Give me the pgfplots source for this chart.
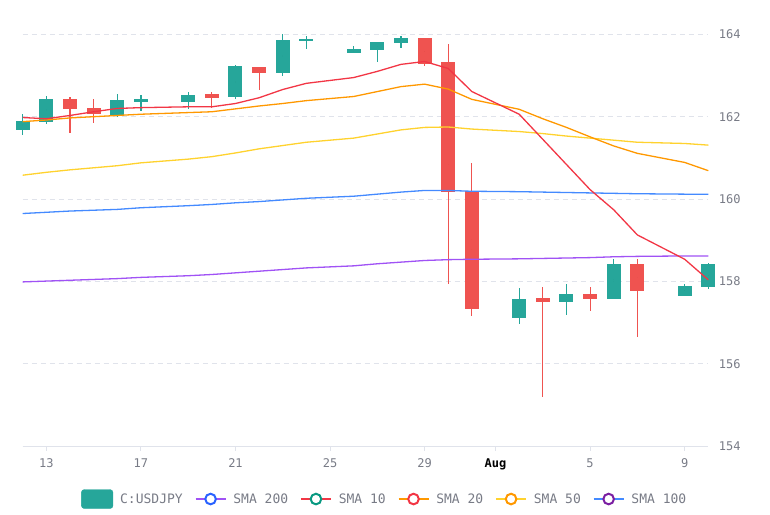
\documentclass[border=0pt]{standalone}
\usepackage{pgfplots}
\pgfplotsset{compat=1.18}
\usepackage{pgfplotstable}
\usepackage{fontspec}
\setmainfont{DejaVu Sans}
\newfontfamily\monof{DejaVu Sans Mono}
\definecolor{cgreen}{HTML}{26A69A}
\definecolor{cred}{HTML}{EF5350}
\definecolor{smaA}{HTML}{F23645}
\definecolor{smaB}{HTML}{FF9800}
\definecolor{smaC}{HTML}{FFD22E}
\definecolor{smaD}{HTML}{448AFF}
\definecolor{smaE}{HTML}{A052F5}
\definecolor{lgblue}{HTML}{2962FF}
\definecolor{lgteal}{HTML}{089981}
\definecolor{lgpurple}{HTML}{7B1FA2}
\definecolor{txtgray}{HTML}{787B86}
\definecolor{gridgray}{HTML}{E0E3EB}

\pgfplotstableread{
x  o      h      l      c
12 161.68 162.06 161.56 161.88
13 161.88 162.50 161.83 162.42
16 162.06 162.55 161.99 162.39
17 162.38 162.52 162.14 162.41
19 162.38 162.59 162.18 162.52
21 162.49 163.25 162.43 163.21
23 163.08 164.00 162.99 163.84
24 163.84 163.96 163.64 163.87
26 163.56 163.72 163.55 163.63
27 163.62 163.80 163.33 163.79
28 163.79 163.96 163.66 163.89
33 157.13 157.85 156.97 157.57
35 157.52 157.94 157.19 157.69
37 157.58 158.54 157.57 158.41
40 157.65 157.93 157.64 157.89
41 157.87 158.45 157.83 158.41
}\greencandles

\pgfplotstableread{
x  o      h      l      c
14 162.42 162.47 161.60 162.19
15 162.20 162.42 161.84 162.07
20 162.53 162.61 162.22 162.47
22 163.20 163.21 162.66 163.08
29 163.89 163.92 163.23 163.30
30 163.32 163.76 157.94 160.18
31 160.18 160.88 157.17 157.35
34 157.58 157.86 155.19 157.52
36 157.69 157.86 157.28 157.58
38 158.41 158.55 156.66 157.78
}\redcandles

\pgfplotstableread{
x  s10    s20    s50    s100   s200
12 161.98 161.88 160.58 159.65 157.99
13 161.95 161.92 160.65 159.68 158.01
14 162.03 161.97 160.71 159.71 158.03
15 162.12 162.00 160.76 159.73 158.05
16 162.20 162.03 160.81 159.75 158.07
17 162.22 162.06 160.88 159.79 158.10
19 162.24 162.10 160.97 159.84 158.14
20 162.24 162.12 161.03 159.87 158.17
21 162.32 162.19 161.12 159.91 158.21
22 162.46 162.26 161.22 159.94 158.25
23 162.66 162.32 161.30 159.98 158.29
24 162.81 162.39 161.38 160.02 158.33
26 162.95 162.49 161.48 160.07 158.38
27 163.10 162.61 161.58 160.12 158.43
28 163.27 162.73 161.68 160.17 158.47
29 163.34 162.79 161.74 160.21 158.51
30 163.17 162.67 161.75 160.21 158.53
31 162.61 162.42 161.70 160.19 158.54
33 162.06 162.18 161.64 160.18 158.55
34 161.45 161.95 161.59 160.17 158.56
35 160.84 161.74 161.53 160.16 158.57
36 160.23 161.51 161.48 160.15 158.58
37 159.74 161.29 161.43 160.14 158.60
38 159.13 161.11 161.38 160.13 158.61
40 158.54 160.89 161.35 160.12 158.62
41 158.04 160.69 161.31 160.12 158.62
}\smatable

\pgfplotsset{
  candle/.style 2 args={only marks, mark=*, mark size=0pt, mark options={draw=none, fill=none}, forget plot,
    error bars/.cd, y dir=both, y explicit, error mark=none,
    error bar style={line width=#1, #2}},
}

\begin{document}
\begin{tikzpicture}[x=1pt,y=1pt]
\useasboundingbox (0,0) rectangle (770,514);
\begin{axis}[
  at={(22.7pt,67.7pt)}, anchor=south west,
  scale only axis, width=685.6pt, height=412pt,
  xmin=12, xmax=41, ymin=154, ymax=164,
  clip=false,
  axis x line*=bottom, axis y line*=right,
  x axis line style={gridgray, line width=1pt, -},
  y axis line style={draw=none},
  ytick={154,156,158,160,162,164},
  yticklabels={154,156,158,160,162,164},
  ytick style={draw=none},
  yticklabel style={anchor=west, xshift=2.5pt, font=\monof\fontsize{12}{12}\selectfont, text=txtgray},
  ymajorgrids,
  major grid style={gridgray, line width=1pt, dash pattern=on 5pt off 4pt},
  xtick={13,17,21,25,29,32,36,40},
  xticklabels={13,17,21,25,29,{\color{black}\bfseries Aug},5,9},
  xtick style={gridgray, line width=1pt},
  tick align=outside, major tick length=4.5pt,
  xticklabel style={yshift=-4.5pt, font=\monof\fontsize{12}{12}\selectfont, text=txtgray},
  legend columns=6,
  legend style={at={(axis description cs:0.528,-0.128)}, anchor=center, draw=none, fill=none,
    font=\monof\fontsize{13}{13}\selectfont, text=txtgray,
    /tikz/every odd column/.append style={column sep=5pt},
    /tikz/every even column/.append style={column sep=10pt}},
]
% wicks
\addplot[candle={1.2pt}{cgreen}]
  table[x=x, y expr={(\thisrow{h}+\thisrow{l})/2}, y error expr={(\thisrow{h}-\thisrow{l})/2}] {\greencandles};
\addplot[candle={1.2pt}{cred}]
  table[x=x, y expr={(\thisrow{h}+\thisrow{l})/2}, y error expr={(\thisrow{h}-\thisrow{l})/2}] {\redcandles};
% bodies
\addplot[candle={14pt}{cgreen}]
  table[x=x, y expr={(\thisrow{o}+\thisrow{c})/2}, y error expr={abs(\thisrow{c}-\thisrow{o})/2+0.012}] {\greencandles};
\addplot[candle={14pt}{cred}]
  table[x=x, y expr={(\thisrow{o}+\thisrow{c})/2}, y error expr={abs(\thisrow{c}-\thisrow{o})/2+0.012}] {\redcandles};
% SMAs
\addplot[smaE, line width=1.3pt, mark=none, forget plot] table[x=x, y=s200] {\smatable};
\addplot[smaD, line width=1.3pt, mark=none, forget plot] table[x=x, y=s100] {\smatable};
\addplot[smaC, line width=1.3pt, mark=none, forget plot] table[x=x, y=s50] {\smatable};
\addplot[smaB, line width=1.3pt, mark=none, forget plot] table[x=x, y=s20] {\smatable};
\addplot[smaA, line width=1.3pt, mark=none, forget plot] table[x=x, y=s10] {\smatable};
% legend
\addlegendimage{legend image code/.code={\fill[cgreen, rounded corners=3pt] (0pt,-9.5pt) rectangle (31.6pt,9.5pt);}}
\addlegendentry{C:USDJPY}
\addlegendimage{legend image code/.code={\draw[smaE, line width=1.6pt] (0pt,0pt) -- (30pt,0pt); \draw[lgblue, line width=2pt, fill=white] (15pt,0pt) circle (5.3pt);}}
\addlegendentry{SMA 200}
\addlegendimage{legend image code/.code={\draw[smaA, line width=1.6pt] (0pt,0pt) -- (30pt,0pt); \draw[lgteal, line width=2pt, fill=white] (15pt,0pt) circle (5.3pt);}}
\addlegendentry{SMA 10}
\addlegendimage{legend image code/.code={\draw[smaB, line width=1.6pt] (0pt,0pt) -- (30pt,0pt); \draw[smaA, line width=2pt, fill=white] (15pt,0pt) circle (5.3pt);}}
\addlegendentry{SMA 20}
\addlegendimage{legend image code/.code={\draw[smaC, line width=1.6pt] (0pt,0pt) -- (30pt,0pt); \draw[smaB, line width=2pt, fill=white] (15pt,0pt) circle (5.3pt);}}
\addlegendentry{SMA 50}
\addlegendimage{legend image code/.code={\draw[smaD, line width=1.6pt] (0pt,0pt) -- (30pt,0pt); \draw[lgpurple, line width=2pt, fill=white] (15pt,0pt) circle (5.3pt);}}
\addlegendentry{SMA 100}
\end{axis}
\end{tikzpicture}
\end{document}
